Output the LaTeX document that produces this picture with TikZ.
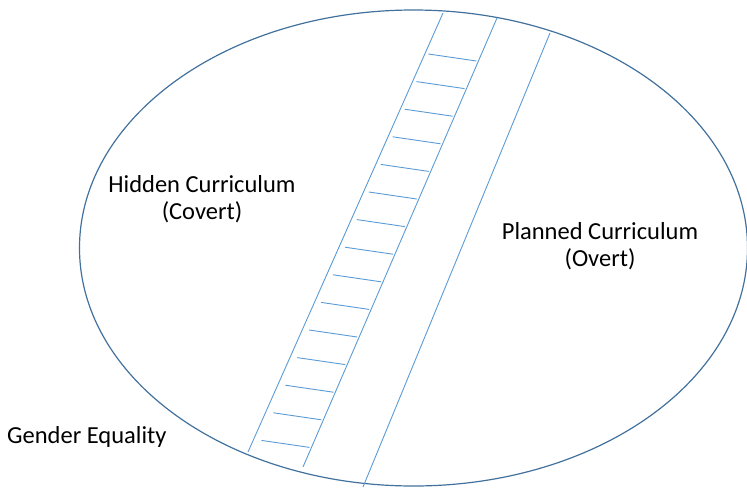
\documentclass[tikz,border=0pt]{standalone}
\usepackage{fontspec}
\setmainfont{Carlito}
\usetikzlibrary{positioning}
\definecolor{ringblue}{RGB}{65,113,156}
\definecolor{railblue}{RGB}{91,155,213}

\begin{document}
\begin{tikzpicture}[
    x=1pt,
    y=-1pt,
    ringline/.style={draw=ringblue, line width=1.2pt},
    railline/.style={draw=railblue, line width=0.9pt},
    tagtext/.style={inner sep=0pt, align=center, font=\fontsize{24.5}{27}\selectfont},
]
    \useasboundingbox (0,0) rectangle (747,488);

    % outer ring
    \draw[ringline] (413.5,248) ellipse [x radius=334pt, y radius=238pt];

    % ladder and the single line
    \coordinate (LB) at (248,452);
    \coordinate (LT) at (443,13);
    \coordinate (RB) at (303,467);
    \coordinate (RT) at (497,18);
    \coordinate (SB) at (363,487);
    \coordinate (ST) at (550,33);

    \draw[railline] (LB) -- (LT);
    \draw[railline] (RB) -- (RT);
    \draw[railline] (SB) -- (ST);

    % rungs
    \foreach \k in {0,...,14} {
        \pgfmathsetmacro\ry{61+27.6*\k}
        \pgfmathsetmacro\rx{495-0.432*(\ry-18)}
        \draw[railline] (\rx-48,\ry-7) -- (\rx,\ry);
    }

    \node[tagtext]                    (hidden)  at (202,199) {Hidden Curriculum\\(Covert)};
    \node[tagtext]                    (planned) at (600,246) {Planned Curriculum\\(Overt)};
    \node[tagtext, anchor=base west]  (gender)  at (7,443)   {Gender Equality};
\end{tikzpicture}
\end{document}
